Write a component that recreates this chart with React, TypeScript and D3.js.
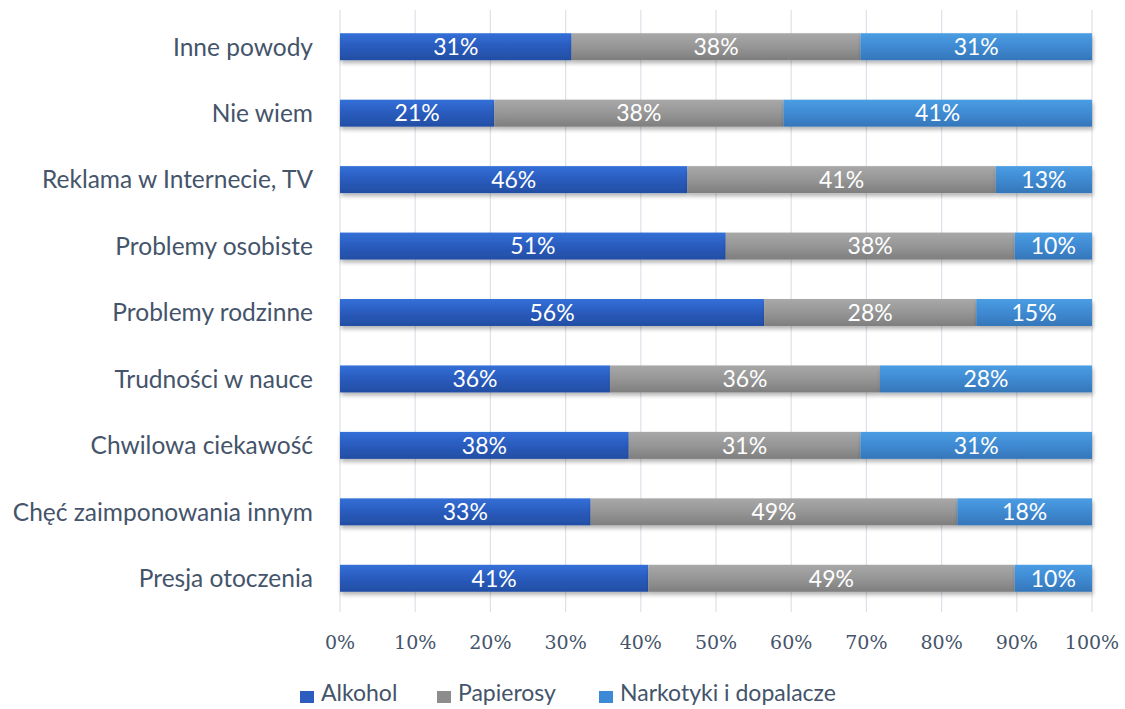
import React from "react";
import * as d3 from "d3";

const categories = [
  "Presja otoczenia",
  "Chęć zaimponowania innym",
  "Chwilowa ciekawość",
  "Trudności w nauce",
  "Problemy rodzinne",
  "Problemy osobiste",
  "Reklama w Internecie, TV",
  "Nie wiem",
  "Inne powody",
];
const alkohol = [41.0, 33.3, 38.4, 35.9, 56.4, 51.3, 46.2, 20.5, 30.8];
const papierosy = [48.7, 48.7, 30.8, 35.9, 28.2, 38.4, 41.0, 38.4, 38.4];
const narkotyki = [10.3, 17.9, 30.8, 28.2, 15.4, 10.3, 12.8, 41.0, 30.8];
const seriesNames = ["Alkohol", "Papierosy", "Narkotyki i dopalacze"];
const xTicks = [0, 0.1, 0.2, 0.3, 0.4, 0.5, 0.6, 0.7, 0.8, 0.9, 1];

const W = 1125;
const H = 709;
const FONT = "Lato, 'Liberation Sans', sans-serif";
const SERIF = "'DejaVu Serif', 'Liberation Serif', serif";
const TEXT = "#44546a";

const gradStops = [
  ["#3370d8", "#2a5bbd", "#234ea3"],
  ["#a8a8a8", "#969696", "#7e7e7e"],
  ["#4a9de3", "#3f8ad2", "#3576b9"],
];
const legendColors = ["#2c5cc0", "#8c8c8c", "#3c8ad6"];

export default function App() {
  const data = categories.map((c, i) => ({
    cat: c,
    s0: alkohol[i],
    s1: papierosy[i],
    s2: narkotyki[i],
  }));
  const keys = ["s0", "s1", "s2"];
  const stack = d3.stack<any>().keys(keys).offset(d3.stackOffsetExpand);
  const stacked = stack(data);

  const x = d3.scaleLinear().domain([0, 1]).range([340, 1092]);
  const y = d3
    .scaleBand<string>()
    .domain([...categories].reverse())
    .range([13.5, 611.5])
    .paddingInner(0.594)
    .paddingOuter(0.297);

  const bh = y.bandwidth();
  const legendSq = [300, 437, 599];

  return (
    <svg
      width={W}
      height={H}
      style={{ position: "absolute", left: 0, top: 0, background: "#fff" }}
      fontFamily={FONT}
    >
      <defs>
        {gradStops.map((g, i) => (
          <linearGradient id={`g${i}`} key={i} x1="0" y1="0" x2="0" y2="1">
            <stop offset="0%" stopColor={g[0]} />
            <stop offset="50%" stopColor={g[1]} />
            <stop offset="100%" stopColor={g[2]} />
          </linearGradient>
        ))}
        <filter id="shadow" x="-5%" y="-30%" width="110%" height="180%">
          <feGaussianBlur in="SourceAlpha" stdDeviation="2" />
          <feOffset dx="1" dy="3" result="b" />
          <feComponentTransfer>
            <feFuncA type="linear" slope="0.3" />
          </feComponentTransfer>
          <feMerge>
            <feMergeNode />
            <feMergeNode in="SourceGraphic" />
          </feMerge>
        </filter>
      </defs>

      {/* gridlines */}
      {xTicks.map((t) => (
        <line
          key={t}
          x1={x(t)}
          x2={x(t)}
          y1={10}
          y2={612}
          stroke="#dde1ea"
          strokeWidth={1.2}
        />
      ))}

      {/* bars */}
      {stacked.map((layer, si) => (
        <g key={si} filter="url(#shadow)">
          {layer.map((d, i) => (
            <rect
              key={i}
              x={x(d[0])}
              y={y(categories[i])}
              width={x(d[1]) - x(d[0])}
              height={bh}
              fill={`url(#g${si})`}
            />
          ))}
        </g>
      ))}

      {/* data labels */}
      {stacked.map((layer, si) =>
        layer.map((d, i) => {
          const v = [alkohol, papierosy, narkotyki][si][i];
          return (
            <text
              key={`${si}-${i}`}
              x={(x(d[0]) + x(d[1])) / 2}
              y={(y(categories[i]) as number) + bh / 2}
              dy="0.36em"
              textAnchor="middle"
              fill="#ffffff"
              fontSize={23}
            >
              {Math.round(v)}%
            </text>
          );
        })
      )}

      {/* category labels */}
      {categories.map((c) => (
        <text
          key={c}
          x={313}
          y={(y(c) as number) + bh / 2}
          dy="0.36em"
          textAnchor="end"
          fill={TEXT}
          fontSize={24.5}
        >
          {c}
        </text>
      ))}

      {/* x tick labels */}
      {xTicks.map((t) => (
        <text
          key={t}
          x={x(t)}
          y={642}
          dy="0.36em"
          textAnchor="middle"
          fill={TEXT}
          fontSize={19}
          fontFamily={SERIF}
        >
          {d3.format(".0%")(t)}
        </text>
      ))}

      {/* legend */}
      {seriesNames.map((n, i) => {
        const lx = legendSq[i];
        return (
          <g key={n}>
            <rect x={lx} y={691} width={14} height={12} fill={legendColors[i]} />
            <text x={lx + 21} y={693} dy="0.36em" fill={TEXT} fontSize={23}>
              {n}
            </text>
          </g>
        );
      })}
    </svg>
  );
}
